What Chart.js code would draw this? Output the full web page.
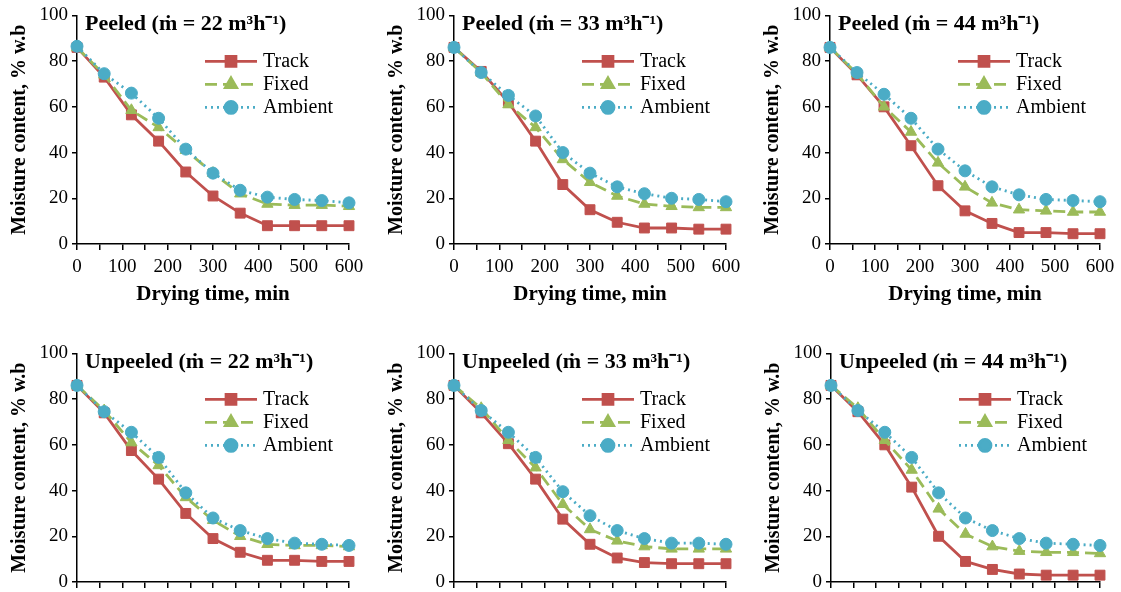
<!DOCTYPE html>
<html>
<head>
<meta charset="utf-8">
<script src="https://cdn.jsdelivr.net/npm/chart.js@4"></script>
<style>
  html, body { margin: 0; padding: 0; background: #fff; overflow: hidden; width: 1121px; height: 592px; }
  .panel { position: absolute; }
</style>
</head>
<body>
<div class="panel" style="left:0px;top:0px"><canvas id="c0" width="370" height="310"></canvas></div>
<div class="panel" style="left:377px;top:0px"><canvas id="c1" width="370" height="310"></canvas></div>
<div class="panel" style="left:753px;top:0px"><canvas id="c2" width="368" height="310"></canvas></div>
<div class="panel" style="left:0px;top:338px"><canvas id="c3" width="370" height="310"></canvas></div>
<div class="panel" style="left:377px;top:338px"><canvas id="c4" width="370" height="310"></canvas></div>
<div class="panel" style="left:754px;top:338px"><canvas id="c5" width="367" height="310"></canvas></div>
<script>
// drying time (min)
const times = [0, 60, 120, 180, 240, 300, 360, 420, 480, 540, 600];
const seriesNames = ['Track', 'Fixed', 'Ambient'];
const panelTitles = [
  'Peeled (ṁ = 22 m³h⁻¹)', 'Peeled (ṁ = 33 m³h⁻¹)', 'Peeled (ṁ = 44 m³h⁻¹)',
  'Unpeeled (ṁ = 22 m³h⁻¹)', 'Unpeeled (ṁ = 33 m³h⁻¹)', 'Unpeeled (ṁ = 44 m³h⁻¹)'
];

// moisture content, % w.b
const trackP22   = [86, 73, 56.5, 45, 31.5, 21, 13.5, 8, 8, 8, 8];
const fixedP22   = [86, 74, 58.5, 51, 41, 31, 22, 17.5, 17, 17, 16.5];
const ambientP22 = [86.5, 74.5, 66, 55, 41.5, 31, 23.5, 20.5, 19.5, 19, 18];

const trackP33   = [86, 75.5, 62, 45, 26, 15, 9.5, 7, 7, 6.5, 6.5];
const fixedP33   = [86, 75, 61, 51, 37, 27, 21, 17.5, 16.5, 16, 16];
const ambientP33 = [86, 75, 65, 56, 40, 31, 25, 22, 20, 19.5, 18.5];

const trackP44   = [86, 74, 60, 43, 25.5, 14.5, 9, 5, 5, 4.5, 4.5];
const fixedP44   = [86, 74.5, 60, 49, 35.5, 25, 18, 15, 14.5, 14, 14];
const ambientP44 = [86, 75, 65.5, 55, 41.5, 32, 25, 21.5, 19.5, 19, 18.5];

const trackU22   = [86, 74, 57.5, 45, 30, 19, 13, 9.5, 9.5, 9, 9];
const fixedU22   = [86, 75, 61, 51, 37, 27, 20, 16.5, 16, 16, 15.5];
const ambientU22 = [86, 74.5, 65.5, 54.5, 39, 28, 22.5, 19, 17, 16.5, 16];

const trackU33   = [86, 74, 60.5, 45, 27.5, 16.5, 10.5, 8.5, 8, 8, 8];
const fixedU33   = [86, 76, 62, 50, 34, 23, 18, 15.5, 14.5, 14.5, 14.5];
const ambientU33 = [86, 75, 65.5, 54.5, 39.5, 29, 22.5, 19, 17, 17, 16.5];

const trackU44   = [86, 74.5, 60, 41.5, 20, 9, 5.5, 3.5, 3, 3, 3];
const fixedU44   = [86, 76, 62, 49, 32, 21, 15.5, 13.5, 13, 13, 12.5];
const ambientU44 = [86, 75, 65.5, 54.5, 39, 28, 22.5, 19, 17, 16.5, 16];

const panelSeries = [
  [trackP22, fixedP22, ambientP22],
  [trackP33, fixedP33, ambientP33],
  [trackP44, fixedP44, ambientP44],
  [trackU22, fixedU22, ambientU22],
  [trackU33, fixedU33, ambientU33],
  [trackU44, fixedU44, ambientU44]
];

const serif = '"Liberation Serif", "Times New Roman", serif';
const styles = [
  { color: '#C0504D', dash: [], point: 'rect', radius: 7, order: 3 },
  { color: '#9BBB59', dash: [12, 6], point: 'triangle', radius: 6.5, order: 2 },
  { color: '#4BACC6', dash: [2, 4], point: 'circle', radius: 6, order: 1 }
];

// title and legend drawn inside the plot area, like the original
const insideText = {
  id: 'insideText',
  afterDraw(chart, args, opts) {
    const { ctx, chartArea } = chart;
    ctx.save();
    ctx.fillStyle = '#000';
    ctx.textBaseline = 'middle';
    ctx.font = 'bold 22px ' + serif;
    ctx.fillText(opts.title, chartArea.left + 8, chartArea.top + 9);

    ctx.font = '20px ' + serif;
    chart.data.datasets.forEach(function(ds, i) {
      const y = chartArea.top + 46 + i * 23;
      const x0 = chartArea.left + 128, x1 = x0 + 52;
      ctx.strokeStyle = ds.borderColor;
      ctx.lineWidth = ds.borderWidth;
      ctx.setLineDash(ds.borderDash);
      ctx.beginPath();
      ctx.moveTo(x0, y);
      ctx.lineTo(x1, y);
      ctx.stroke();
      ctx.setLineDash([]);
      ctx.fillStyle = ds.pointBackgroundColor;
      ctx.strokeStyle = ds.pointBorderColor;
      Chart.helpers.drawPoint(ctx, { pointStyle: ds.pointStyle, radius: ds.pointRadius, rotation: 0, borderWidth: 1 }, (x0 + x1) / 2, y);
      ctx.fillStyle = '#000';
      ctx.fillText(ds.label, x1 + 6, y);
    });
    ctx.restore();
  }
};

function makePanel(idx) {
  const datasets = panelSeries[idx].map(function(values, i) {
    const s = styles[i];
    return {
      label: seriesNames[i],
      data: times.map(function(t, k) { return { x: t, y: values[k] }; }),
      borderColor: s.color,
      backgroundColor: s.color,
      pointBackgroundColor: s.color,
      pointBorderColor: s.color,
      borderWidth: 2.8,
      borderDash: s.dash,
      pointStyle: s.point,
      pointRadius: s.radius,
      pointBorderWidth: 1,
      order: s.order,
      tension: 0,
      clip: false
    };
  });

  new Chart(document.getElementById('c' + idx), {
    type: 'line',
    data: { datasets: datasets },
    plugins: [insideText],
    options: {
      responsive: false,
      animation: false,
      devicePixelRatio: 1,
      layout: { autoPadding: false, padding: { top: 14, right: 21, left: 0, bottom: 0 } },
      plugins: {
        legend: { display: false },
        tooltip: { enabled: false },
        insideText: { title: panelTitles[idx] }
      },
      scales: {
        x: {
          type: 'linear',
          min: 0,
          max: 600,
          afterFit: function(scale) { scale.height = 66; },
          ticks: {
            stepSize: 50,
            autoSkip: false,
            maxRotation: 0,
            padding: 6,
            color: '#000',
            font: { family: serif, size: 19 },
            callback: function(v) { return v % 100 === 0 ? String(v) : ''; }
          },
          grid: { drawOnChartArea: false, tickLength: 6, color: '#000', lineWidth: 1.5 },
          border: { color: '#000', width: 1.5 },
          title: {
            display: true,
            text: 'Drying time, min',
            color: '#000',
            font: { family: serif, size: 21, weight: 'bold' },
            padding: { top: 2, bottom: 3 }
          }
        },
        y: {
          min: 0,
          max: 100,
          afterFit: function(scale) { scale.width = 77; },
          ticks: {
            stepSize: 20,
            padding: 4,
            color: '#000',
            font: { family: serif, size: 19 }
          },
          grid: { drawOnChartArea: false, tickLength: 5, color: '#000', lineWidth: 1.5 },
          border: { color: '#000', width: 1.5 },
          title: {
            display: true,
            text: 'Moisture content, % w.b',
            color: '#000',
            font: { family: serif, size: 20, weight: 'bold' },
            padding: { top: 8, bottom: 2 }
          }
        }
      }
    }
  });
}

for (let i = 0; i < 6; i++) makePanel(i);
</script>
</body>
</html>
